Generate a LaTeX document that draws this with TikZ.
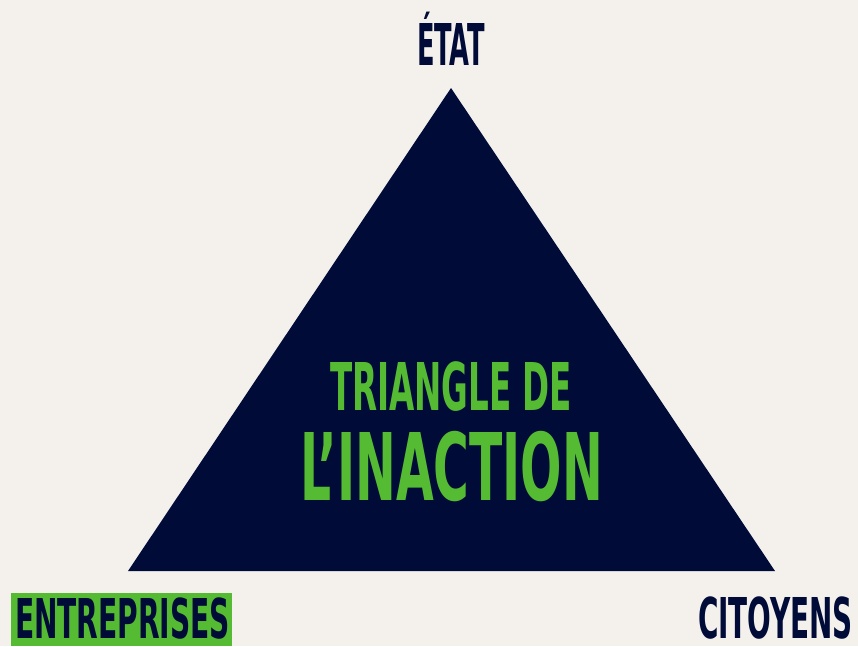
\documentclass[tikz,border=0pt]{standalone}
\usepackage{fontspec}
\usepackage{graphicx}
\setmainfont{DejaVu Sans Condensed}
\definecolor{bg}{HTML}{F4F1EC}
\definecolor{navy}{HTML}{000B38}
\definecolor{leaf}{HTML}{55BB33}
\newcommand\fitcaps[3]{\resizebox{#1pt}{#2pt}{\raisebox{0pt}[\fontcharht\font`E][0pt]{#3}}}
\tikzset{
  lbl/.style={inner sep=0pt, outer sep=0pt, font=\bfseries},
}
\begin{document}
\begin{tikzpicture}[x=1pt,y=-1pt]
\fill[bg] (0,0) rectangle (858,646);
\useasboundingbox (0,0) rectangle (858,646);
\coordinate (apex) at (451,88);
\coordinate (bl) at (128,571);
\coordinate (br) at (775,571);
\fill[navy] (apex) -- (br) -- (bl) -- cycle;
\node[lbl, text=navy, anchor=south west] (etat) at (417,65) {\fitcaps{68}{42}{ÉTAT}};
\fill[leaf] (11,593) rectangle (232,646);
\node[lbl, text=navy, anchor=south west] (entreprises) at (15,638) {\fitcaps{215}{40}{ENTREPRISES}};
\node[lbl, text=navy, anchor=south west] (citoyens) at (698,638) {\fitcaps{155}{41}{CITOYENS}};
\node[lbl, text=leaf, anchor=south west] (t1) at (330,410) {\fitcaps{242}{48}{TRIANGLE DE}};
\node[lbl, text=leaf, anchor=south west] (t2) at (300,500) {\fitcaps{303}{68}{L’INACTION}};
\end{tikzpicture}
\end{document}
